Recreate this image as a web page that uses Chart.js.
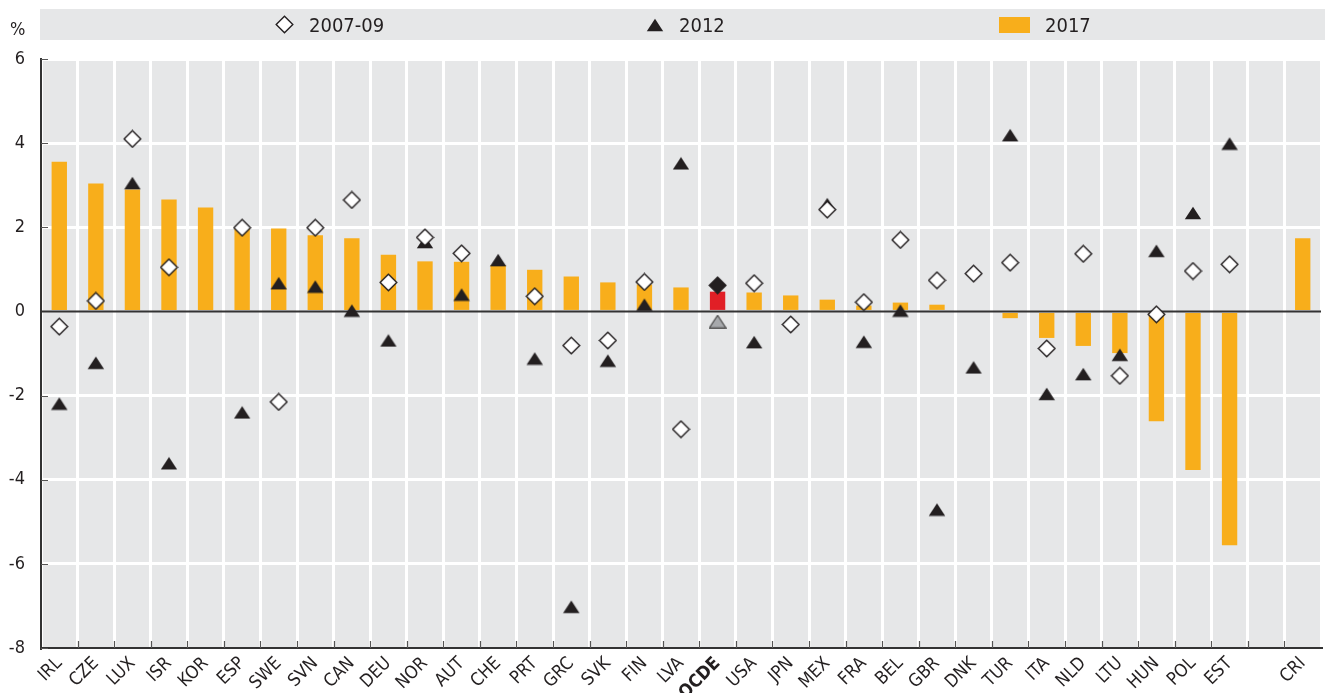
<!DOCTYPE html>
<html>
<head>
<meta charset="utf-8">
<script src="https://cdn.jsdelivr.net/npm/chart.js@4.4.1/dist/chart.umd.min.js"></script>
<style>
  html, body { margin: 0; padding: 0; background: #fff; }
  #wrap { position: relative; width: 1330px; height: 693px; }
  #chart { position: absolute; left: 0; top: 0; }
  .txt { font-family: "Liberation Sans Narrow", "DejaVu Sans Condensed", "Arial Narrow", sans-serif; color: #231f20; }
  #unit { position: absolute; left: 10px; top: 18px; font-size: 18px; }
  #legend { position: absolute; left: 40px; top: 9px; width: 1285px; height: 31px; background: #e6e7e8; }
  .item { position: absolute; top: 0; height: 31px; display: flex; align-items: center; font-size: 20px; white-space: nowrap; }
  .item canvas { display: block; margin-right: 15px; }
  .item.i0 { left: 235px; }
  .item.i1 { left: 606px; }
  .item.i2 { left: 959px; }
</style>
</head>
<body>
<div id="wrap">
  <canvas id="chart" width="1330" height="693"></canvas>
  <div id="unit" class="txt">%</div>
  <div id="legend" class="txt"></div>
</div>
<script>
// Country codes along the axis (empty slot separates CRI)
const categories = ['IRL','CZE','LUX','ISR','KOR','ESP','SWE','SVN','CAN','DEU','NOR','AUT','CHE','PRT','GRC','SVK','FIN','LVA','OCDE','USA','JPN','MEX','FRA','BEL','GBR','DNK','TUR','ITA','NLD','LTU','HUN','POL','EST','','CRI'];

// 2007-09 values (%)
const values2007 = [-0.36, 0.25, 4.10, 1.05, null, 1.99, -2.15, 1.99, 2.65, 0.69, 1.76, 1.38, null, 0.36, -0.81, -0.69, 0.70, -2.80, 0.62, 0.67, -0.31, 2.42, 0.22, 1.70, 0.74, 0.90, 1.16, -0.88, 1.37, -1.53, -0.07, 0.96, 1.12, null, null];

// 2012 values (%)
const values2012 = [-2.19, -1.22, 3.05, -3.61, null, -2.40, 0.67, 0.59, 0.02, -0.69, 1.65, 0.40, 1.22, -1.12, -7.02, -1.17, 0.16, 3.52, -0.24, -0.73, null, 2.55, -0.72, 0.02, -4.71, -1.33, 4.19, -1.96, -1.49, -1.03, 1.44, 2.34, 3.99, null, null];

// 2017 values (%)
const values2017 = [3.56, 3.04, 2.90, 2.66, 2.47, 1.96, 1.97, 1.81, 1.74, 1.35, 1.19, 1.18, 1.10, 0.99, 0.83, 0.69, 0.64, 0.57, 0.47, 0.45, 0.38, 0.28, 0.14, 0.21, 0.16, null, -0.16, -0.63, -0.82, -0.99, -2.61, -3.77, -5.56, null, 1.74];

// Y axis range and tick step
const yMin = -8, yMax = 6, yStep = 2;

const INK = '#231f20';
const ORANGE = '#f8ae1b';
const RED = '#e11f26';
const PANEL = '#e6e7e8';
const FONT = '"Liberation Sans Narrow", "DejaVu Sans Condensed", "Arial Narrow", sans-serif';

function diamondMarker(fill) {
  const c = document.createElement('canvas');
  c.width = 19; c.height = 19;
  const g = c.getContext('2d');
  g.beginPath();
  g.moveTo(9.5, 1.2); g.lineTo(17.8, 9.5); g.lineTo(9.5, 17.8); g.lineTo(1.2, 9.5);
  g.closePath();
  g.fillStyle = fill; g.fill();
  g.lineWidth = 1.4; g.strokeStyle = INK; g.stroke();
  return c;
}
function triangleMarker(fill, stroke) {
  const c = document.createElement('canvas');
  c.width = 18; c.height = 14;
  const g = c.getContext('2d');
  g.beginPath();
  g.moveTo(9, 0.8); g.lineTo(17.2, 13.2); g.lineTo(0.8, 13.2);
  g.closePath();
  g.fillStyle = fill; g.fill();
  if (stroke) { g.lineWidth = 1.1; g.strokeStyle = stroke; g.stroke(); }
  return c;
}
function swatch(color) {
  const c = document.createElement('canvas');
  c.width = 31; c.height = 16;
  const g = c.getContext('2d');
  g.fillStyle = color; g.fillRect(0, 0, 31, 16);
  return c;
}

const isAvg = c => c === 'OCDE';
const diamondWhite = diamondMarker('#ffffff');
const diamondBlack = diamondMarker(INK);
const triBlack = triangleMarker(INK, null);
const triGrey = triangleMarker('#a7a9ac', '#3a3a3a');

// Panel background behind the plot
const panelPlugin = {
  id: 'panel',
  beforeDraw(chart) {
    const { ctx, chartArea: a } = chart;
    ctx.save();
    ctx.fillStyle = PANEL;
    ctx.fillRect(a.left, a.top, a.right - a.left, a.bottom - a.top);
    ctx.restore();
  }
};

// Zero line above the bars, under the markers
const zeroLinePlugin = {
  id: 'zeroLine',
  afterDatasetDraw(chart, args) {
    if (args.meta.type !== 'bar') return;
    const { ctx, chartArea: a } = chart;
    const y = chart.scales.y.getPixelForValue(0);
    ctx.save();
    ctx.strokeStyle = '#333333';
    ctx.lineWidth = 2;
    ctx.beginPath();
    ctx.moveTo(a.left, y); ctx.lineTo(a.right, y);
    ctx.stroke();
    ctx.restore();
  }
};

// Short inner tick marks on both axes
const innerTicksPlugin = {
  id: 'innerTicks',
  beforeDatasetsDraw(chart) {
    const { ctx, chartArea: a, scales } = chart;
    const xs = scales.x, ys = scales.y;
    const half = (xs.getPixelForValue(1) - xs.getPixelForValue(0)) / 2;
    ctx.save();
    ctx.strokeStyle = '#555555';
    ctx.lineWidth = 1.2;
    ctx.beginPath();
    for (let i = 1; i < categories.length; i++) {
      const x = Math.round(xs.getPixelForValue(i) - half) + 0.5;
      ctx.moveTo(x, a.bottom); ctx.lineTo(x, a.bottom - 7);
    }
    ys.ticks.forEach(t => {
      const y = Math.round(ys.getPixelForValue(t.value)) + 0.5;
      ctx.moveTo(a.left, y); ctx.lineTo(a.left + 7, y);
    });
    ctx.stroke();
    ctx.restore();
  }
};

const chart = new Chart(document.getElementById('chart'), {
  type: 'bar',
  data: {
    labels: categories,
    datasets: [
      {
        type: 'line',
        label: '2007-09',
        data: values2007,
        showLine: false,
        pointRadius: 8,
        pointStyle: categories.map(c => isAvg(c) ? diamondBlack : diamondWhite),
        order: 0
      },
      {
        type: 'line',
        label: '2012',
        data: values2012,
        showLine: false,
        pointRadius: 8,
        pointStyle: categories.map(c => isAvg(c) ? triGrey : triBlack),
        order: 1
      },
      {
        type: 'bar',
        label: '2017',
        data: values2017,
        backgroundColor: categories.map(c => isAvg(c) ? RED : ORANGE),
        barPercentage: 0.42,
        categoryPercentage: 1,
        order: 2
      }
    ]
  },
  options: {
    responsive: false,
    animation: false,
    devicePixelRatio: 1,
    layout: { padding: { top: 59, right: 5, left: 0, bottom: 0 } },
    plugins: {
      legend: { display: false },
      tooltip: { enabled: false }
    },
    scales: {
      x: {
        offset: true,
        grid: { offset: true, color: '#ffffff', lineWidth: 3, drawTicks: false },
        border: { color: '#333333', width: 2 },
        ticks: {
          autoSkip: false,
          maxRotation: 45,
          minRotation: 45,
          padding: 5,
          color: INK,
          font: ctx => ({ family: FONT, size: 18, weight: (ctx.tick && isAvg(ctx.tick.label)) ? 'bold' : 'normal' })
        },
        afterFit: s => { s.height = 45; }
      },
      y: {
        min: yMin,
        max: yMax,
        ticks: { stepSize: yStep, padding: 16, color: INK, font: { family: FONT, size: 18 } },
        grid: {
          color: ctx => (ctx.tick && ctx.tick.value === 0) ? 'rgba(0,0,0,0)' : '#ffffff',
          lineWidth: 3,
          drawTicks: false
        },
        border: { color: '#333333', width: 2 },
        afterFit: s => { s.width = 41; }
      }
    }
  },
  plugins: [panelPlugin, zeroLinePlugin, innerTicksPlugin]
});

// Legend strip built from the datasets
const legendMarkers = {
  '2007-09': () => diamondMarker('#ffffff'),
  '2012': () => triangleMarker(INK, null),
  '2017': () => swatch(ORANGE)
};
const legend = document.getElementById('legend');
chart.data.datasets.forEach((ds, i) => {
  const item = document.createElement('div');
  item.className = 'item i' + i;
  item.appendChild(legendMarkers[ds.label]());
  const span = document.createElement('span');
  span.textContent = ds.label;
  item.appendChild(span);
  legend.appendChild(item);
});
</script>
</body>
</html>
